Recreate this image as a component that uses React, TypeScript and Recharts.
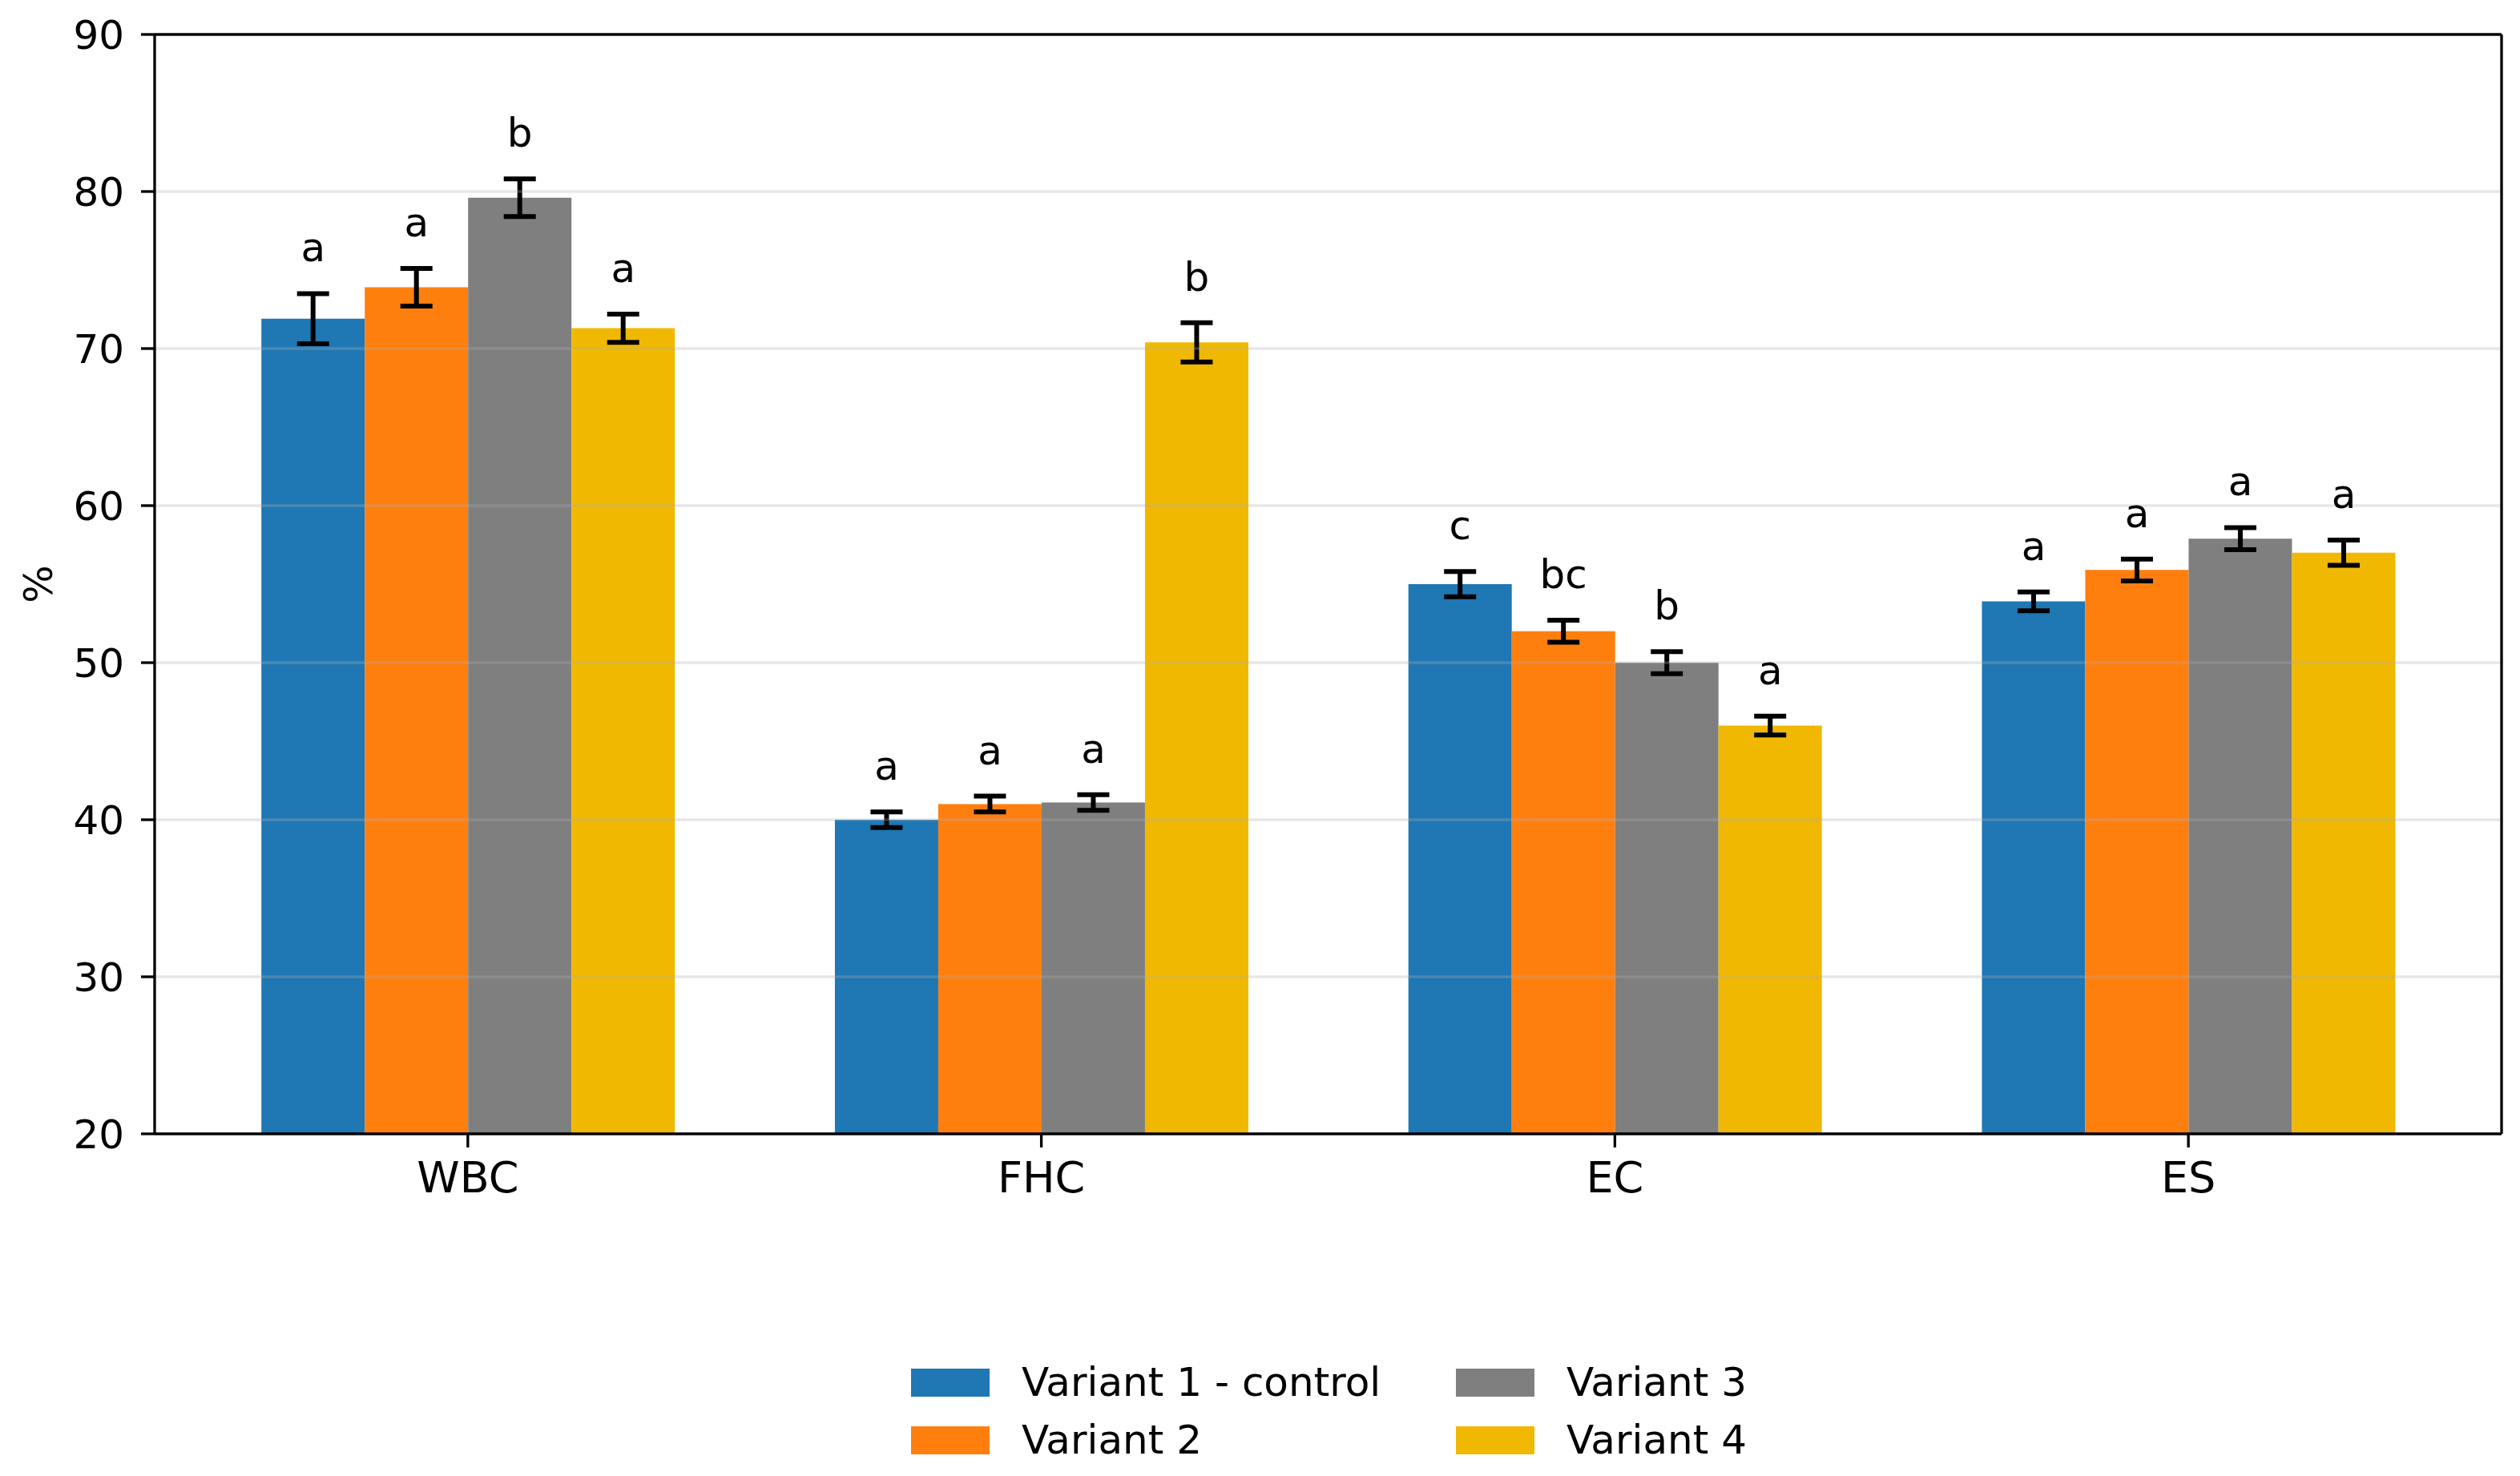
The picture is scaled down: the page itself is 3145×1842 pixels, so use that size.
import React from 'react';
import {
  BarChart,
  Bar,
  XAxis,
  YAxis,
  CartesianGrid,
  ErrorBar,
  LabelList,
  Legend,
} from 'recharts';

const categories = ['WBC', 'FHC', 'EC', 'ES'];

const variant1 = [71.9, 40.0, 55.0, 53.9];
const variant2 = [73.9, 41.0, 52.0, 55.9];
const variant3 = [79.6, 41.1, 50.0, 57.9];
const variant4 = [71.3, 70.4, 46.0, 57.0];

const err1 = [1.6, 0.5, 0.8, 0.6];
const err2 = [1.2, 0.5, 0.7, 0.7];
const err3 = [1.2, 0.5, 0.7, 0.7];
const err4 = [0.9, 1.25, 0.6, 0.8];

const letters1 = ['a', 'a', 'c', 'a'];
const letters2 = ['a', 'a', 'bc', 'a'];
const letters3 = ['b', 'a', 'b', 'a'];
const letters4 = ['a', 'b', 'a', 'a'];

const seriesNames = ['Variant 1 - control', 'Variant 2', 'Variant 3', 'Variant 4'];
const colors = ['#1f77b4', '#ff7f0e', '#7f7f7f', '#f0b800'];

const yTicks = [20, 30, 40, 50, 60, 70, 80, 90];
const gridValues = [30, 40, 50, 60, 70, 80];
const Y_MIN = 20;
const Y_MAX = 90;

const data = categories.map((cat, i) => ({
  cat,
  v1: variant1[i],
  v2: variant2[i],
  v3: variant3[i],
  v4: variant4[i],
  e1: err1[i],
  e2: err2[i],
  e3: err3[i],
  e4: err4[i],
}));

const FONT = '"DejaVu Sans", sans-serif';
const FS = 50;
const LW = 3.33;

const makeLabel = (values: number[], errs: number[], letters: string[]) => (props: any) => {
  const vb = props.viewBox && props.viewBox.width !== undefined ? props.viewBox : props;
  const x = Number(vb.x);
  const y = Number(vb.y);
  const w = Number(vb.width);
  const h = Number(vb.height);
  const idx = props.index;
  if (idx === undefined || idx === null) return null;
  const ppu = h / (values[idx] - Y_MIN);
  const errTop = y - errs[idx] * ppu;
  return (
    <text
      x={x + w / 2}
      y={errTop - 40}
      textAnchor="middle"
      fontSize={FS}
      fontFamily={FONT}
      fill="#000"
    >
      {letters[idx]}
    </text>
  );
};

const LegendContent = () => {
  const order = [0, 2, 1, 3];
  return (
    <div
      style={{
        display: 'grid',
        gridTemplateColumns: '680px auto',
        gridAutoRows: '72px',
        fontFamily: FONT,
        fontSize: FS,
        color: '#000',
      }}
    >
      {order.map((k) => (
        <div key={k} style={{ display: 'flex', alignItems: 'center', height: 72 }}>
          <div style={{ width: 98, height: 35, background: colors[k], marginRight: 40 }} />
          <span style={{ lineHeight: '72px', whiteSpace: 'nowrap' }}>{seriesNames[k]}</span>
        </div>
      ))}
    </div>
  );
};

const PercentLabel = (props: any) => {
  const vb = props.viewBox || { x: 33, y: 43, width: 160, height: 1372 };
  const cx = vb.x + 15;
  const cy = vb.y + vb.height / 2;
  return (
    <text
      x={cx}
      y={cy}
      textAnchor="middle"
      dominantBaseline="central"
      fontSize={FS}
      fontFamily={FONT}
      fill="#000"
      transform={`rotate(-90, ${cx}, ${cy})`}
    >
      %
    </text>
  );
};

export default function App() {
  const yTickStyle = { fontSize: FS, fontFamily: FONT, fill: '#000' };
  const xTickStyle = { fontSize: 54, fontFamily: FONT, fill: '#000' };
  return (
    <div style={{ position: 'absolute', left: 0, top: 0, width: 3145, height: 1842, background: '#fff' }}>
      <BarChart
        width={3145}
        height={1842}
        data={data}
        margin={{ top: 42, right: 22, left: 33, bottom: 327 }}
        barCategoryGap="14%"
        barGap={0}
      >
        <XAxis
          dataKey="cat"
          xAxisId={0}
          height={100}
          padding={{ left: 33, right: 33 }}
          tick={xTickStyle}
          tickSize={17}
          tickMargin={18}
          tickLine={{ stroke: '#000', strokeWidth: LW }}
          axisLine={{ stroke: '#000', strokeWidth: LW }}
        />
        <XAxis
          dataKey="cat"
          xAxisId="top"
          orientation="top"
          height={1}
          padding={{ left: 33, right: 33 }}
          tick={false}
          tickLine={false}
          axisLine={{ stroke: '#000', strokeWidth: LW }}
        />
        <YAxis
          yAxisId={0}
          type="number"
          domain={[Y_MIN, Y_MAX]}
          ticks={yTicks}
          width={160}
          tick={yTickStyle}
          tickSize={17}
          tickMargin={21}
          tickLine={{ stroke: '#000', strokeWidth: LW }}
          axisLine={{ stroke: '#000', strokeWidth: LW }}
          label={<PercentLabel />}
        />
        <YAxis
          yAxisId="right"
          orientation="right"
          type="number"
          domain={[Y_MIN, Y_MAX]}
          ticks={yTicks}
          width={1}
          tick={false}
          tickLine={false}
          axisLine={{ stroke: '#000', strokeWidth: LW }}
        />
        <Bar dataKey="v1" name={seriesNames[0]} fill={colors[0]} isAnimationActive={false}>
          <ErrorBar dataKey="e1" width={20} strokeWidth={6} stroke="#000" direction="y" />
          <LabelList dataKey="v1" content={makeLabel(variant1, err1, letters1)} />
        </Bar>
        <Bar dataKey="v2" name={seriesNames[1]} fill={colors[1]} isAnimationActive={false}>
          <ErrorBar dataKey="e2" width={20} strokeWidth={6} stroke="#000" direction="y" />
          <LabelList dataKey="v2" content={makeLabel(variant2, err2, letters2)} />
        </Bar>
        <Bar dataKey="v3" name={seriesNames[2]} fill={colors[2]} isAnimationActive={false}>
          <ErrorBar dataKey="e3" width={20} strokeWidth={6} stroke="#000" direction="y" />
          <LabelList dataKey="v3" content={makeLabel(variant3, err3, letters3)} />
        </Bar>
        <Bar dataKey="v4" name={seriesNames[3]} fill={colors[3]} isAnimationActive={false}>
          <ErrorBar dataKey="e4" width={20} strokeWidth={6} stroke="#000" direction="y" />
          <LabelList dataKey="v4" content={makeLabel(variant4, err4, letters4)} />
        </Bar>
        <CartesianGrid
          vertical={false}
          horizontalValues={gridValues}
          stroke="#b0b0b0"
          strokeOpacity={0.3}
          strokeWidth={LW}
          {...({ zIndex: 450 } as any)}
        />
        <Legend
          layout="vertical"
          align="center"
          verticalAlign="middle"
          content={<LegendContent />}
          wrapperStyle={{ left: 1137, top: 1689, width: 1100, height: 144 }}
        />
      </BarChart>
    </div>
  );
}
